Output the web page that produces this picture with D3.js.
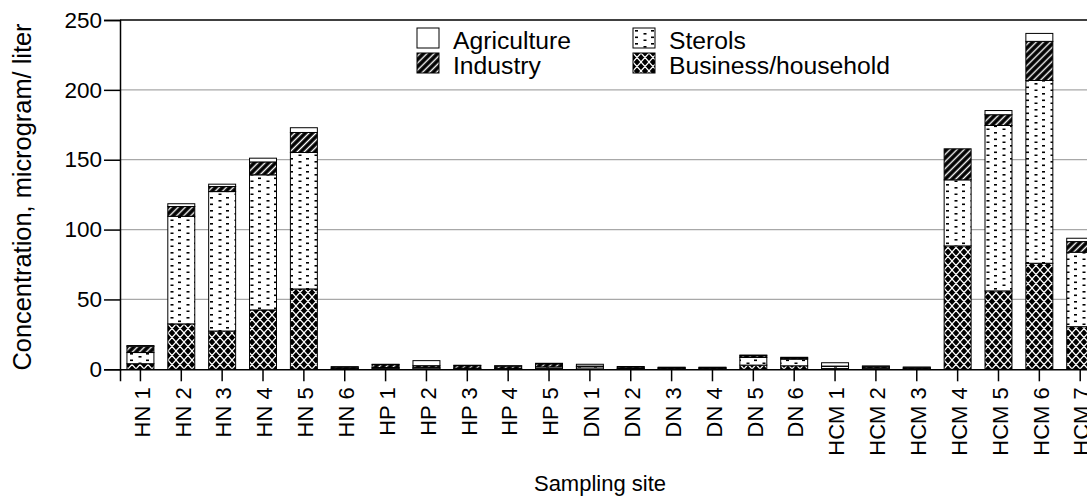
<!DOCTYPE html>
<html>
<head>
<meta charset="utf-8">
<script src="https://cdn.jsdelivr.net/npm/d3@7"></script>
<style>
  body { margin: 0; background: #fff; }
  svg { display: block; font-family: "Liberation Sans", Arial, sans-serif; }
</style>
</head>
<body>
<div id="content"></div>
<script>
// sites along the x axis
const sites = ["HN 1", "HN 2", "HN 3", "HN 4", "HN 5", "HN 6",
  "HP 1", "HP 2", "HP 3", "HP 4", "HP 5",
  "DN 1", "DN 2", "DN 3", "DN 4", "DN 5", "DN 6",
  "HCM 1", "HCM 2", "HCM 3", "HCM 4", "HCM 5", "HCM 6", "HCM 7"];

// series, stacked bottom -> top
const business = [4, 32.5, 27.4, 42.5, 57.5, 0.3, 0.5, 0.4, 0.3, 0.3, 0.5, 0.3, 0.2, 0.2, 0.2, 3, 2.5, 0.5, 0.3, 0.2, 88.3, 56.1, 75.9, 30.5];
const sterols = [8, 77, 99.8, 96.7, 97.7, 0.4, 0.8, 1.0, 0.5, 0.4, 1.2, 1.5, 0.4, 0.3, 0.3, 5.5, 4.8, 1.5, 0.8, 0.3, 47.3, 118.4, 130.8, 53.3];
const industry = [4.5, 7, 3.6, 9.2, 14.3, 0.9, 2.0, 1.2, 1.8, 1.6, 2.2, 0.5, 1.0, 0.8, 0.8, 1.2, 0.8, 0.3, 1.0, 0.9, 22.2, 7.7, 28, 7.6];
const agriculture = [0.5, 2, 1.7, 2.7, 3.4, 0.3, 0.3, 3.6, 0.3, 0.3, 0.4, 1.3, 0.4, 0.2, 0.2, 0.5, 0.5, 2.4, 0.3, 0.2, 0, 3, 5.7, 2.4];

const yTicks = [0, 50, 100, 150, 200, 250];

const keys = ["business", "sterols", "industry", "agriculture"];
const fills = {
  business: "url(#pat-cross)",
  sterols: "url(#pat-dots)",
  industry: "url(#pat-hatch)",
  agriculture: "#fff"
};

const width = 1087, height = 497;
const plotLeft = 120, plotTop = 20, plotBottom = 369.3;

const svg = d3.select("#content").append("svg")
  .attr("width", width)
  .attr("height", height);

// fill patterns
const defs = svg.append("defs");

const cross = defs.append("pattern")
  .attr("id", "pat-cross")
  .attr("patternUnits", "userSpaceOnUse")
  .attr("width", 8).attr("height", 9);
cross.append("rect").attr("width", 8).attr("height", 9).attr("fill", "#000");
cross.append("path").attr("d", "M0,0L8,9M8,0L0,9M-1,7.875L1,10.125M7,-1.125L9,1.125M-1,1.125L1,-1.125M7,10.125L9,7.875")
  .attr("stroke", "#fff").attr("stroke-width", 1.2);

const hatch = defs.append("pattern")
  .attr("id", "pat-hatch")
  .attr("patternUnits", "userSpaceOnUse")
  .attr("patternTransform", "rotate(45)")
  .attr("width", 5).attr("height", 5);
hatch.append("rect").attr("width", 5).attr("height", 5).attr("fill", "#000");
hatch.append("line").attr("x1", 2.5).attr("x2", 2.5).attr("y1", 0).attr("y2", 5)
  .attr("stroke", "#fff").attr("stroke-width", 1.4);

const dots = defs.append("pattern")
  .attr("id", "pat-dots")
  .attr("patternUnits", "userSpaceOnUse")
  .attr("width", 16).attr("height", 13);
dots.append("rect").attr("width", 16).attr("height", 13).attr("fill", "#fff");
dots.append("rect").attr("x", 2).attr("y", 2).attr("width", 3).attr("height", 1.6).attr("fill", "#000");
dots.append("rect").attr("x", 2).attr("y", 8.5).attr("width", 3).attr("height", 1.6).attr("fill", "#000");
dots.append("rect").attr("x", 10.5).attr("y", 5).attr("width", 3).attr("height", 1.6).attr("fill", "#000");
dots.append("rect").attr("x", 10.5).attr("y", 11.5).attr("width", 3).attr("height", 1.6).attr("fill", "#000");

// scales
const x = d3.scaleBand()
  .domain(sites)
  .range([plotLeft, plotLeft + 40.86 * sites.length])
  .paddingInner(0.34)
  .paddingOuter(0.17);

const y = d3.scaleLinear()
  .domain([0, 250])
  .range([plotBottom, plotTop]);

// gridlines
svg.append("g")
  .selectAll("line")
  .data(yTicks.filter(d => d > 0 && d < 250))
  .join("line")
  .attr("x1", plotLeft).attr("x2", width)
  .attr("y1", d => y(d)).attr("y2", d => y(d))
  .attr("stroke", "#a8a8a8")
  .attr("stroke-width", 1.2);

// top frame
svg.append("line")
  .attr("x1", plotLeft).attr("x2", width)
  .attr("y1", y(250)).attr("y2", y(250))
  .attr("stroke", "#000").attr("stroke-width", 1.5);

// stacked bars
const table = sites.map((s, i) => ({
  site: s,
  business: business[i],
  sterols: sterols[i],
  industry: industry[i],
  agriculture: agriculture[i]
}));

const stacked = d3.stack().keys(keys)(table);

svg.append("g")
  .selectAll("g")
  .data(stacked)
  .join("g")
  .attr("fill", d => fills[d.key])
  .selectAll("rect")
  .data(d => d)
  .join("rect")
  .attr("x", d => x(d.data.site))
  .attr("width", x.bandwidth())
  .attr("y", d => y(d[1]))
  .attr("height", d => y(d[0]) - y(d[1]))
  .attr("stroke", "#000")
  .attr("stroke-width", 1);

// y axis
const yAxis = svg.append("g")
  .attr("transform", `translate(${plotLeft},0)`)
  .call(d3.axisLeft(y).tickValues(yTicks).tickSize(16).tickPadding(2));
yAxis.select(".domain").attr("stroke-width", 1.5);
yAxis.selectAll(".tick line").attr("stroke-width", 1.5);
yAxis.selectAll("text").attr("font-size", 22.5).attr("font-family", "Liberation Sans, Arial, sans-serif").attr("fill", "#000");

// x axis
const xAxis = svg.append("g")
  .attr("transform", `translate(0,${plotBottom})`)
  .call(d3.axisBottom(x).tickSizeOuter(0).tickSize(12));
xAxis.select(".domain").attr("stroke-width", 1.5);
xAxis.selectAll(".tick line").attr("stroke-width", 1.5);
xAxis.selectAll("text")
  .attr("font-size", 22)
  .attr("font-family", "Liberation Sans, Arial, sans-serif")
  .attr("fill", "#000")
  .attr("transform", "rotate(-90)")
  .attr("text-anchor", "end")
  .attr("x", -18)
  .attr("y", 0)
  .attr("dy", "0.42em");

// axis titles
svg.append("text")
  .attr("transform", "translate(31,197) rotate(-90)")
  .attr("text-anchor", "middle")
  .attr("font-size", 25.4)
  .text("Concentration, microgram/ liter");

svg.append("text")
  .attr("x", 600)
  .attr("y", 491)
  .attr("text-anchor", "middle")
  .attr("font-size", 22)
  .text("Sampling site");

// legend
const legendItems = [
  { key: "agriculture", label: "Agriculture", x: 417, y: 28 },
  { key: "sterols", label: "Sterols", x: 633, y: 28 },
  { key: "industry", label: "Industry", x: 417, y: 53 },
  { key: "business", label: "Business/household", x: 633, y: 53 }
];

const legend = svg.append("g")
  .selectAll("g")
  .data(legendItems)
  .join("g")
  .attr("transform", d => `translate(${d.x},${d.y})`);

legend.append("rect")
  .attr("width", 22).attr("height", 20)
  .attr("fill", d => fills[d.key])
  .attr("stroke", "#000")
  .attr("stroke-width", 1);

legend.append("text")
  .attr("x", 36)
  .attr("y", 20.5)
  .attr("font-size", 24.7)
  .text(d => d.label);
</script>
</body>
</html>
